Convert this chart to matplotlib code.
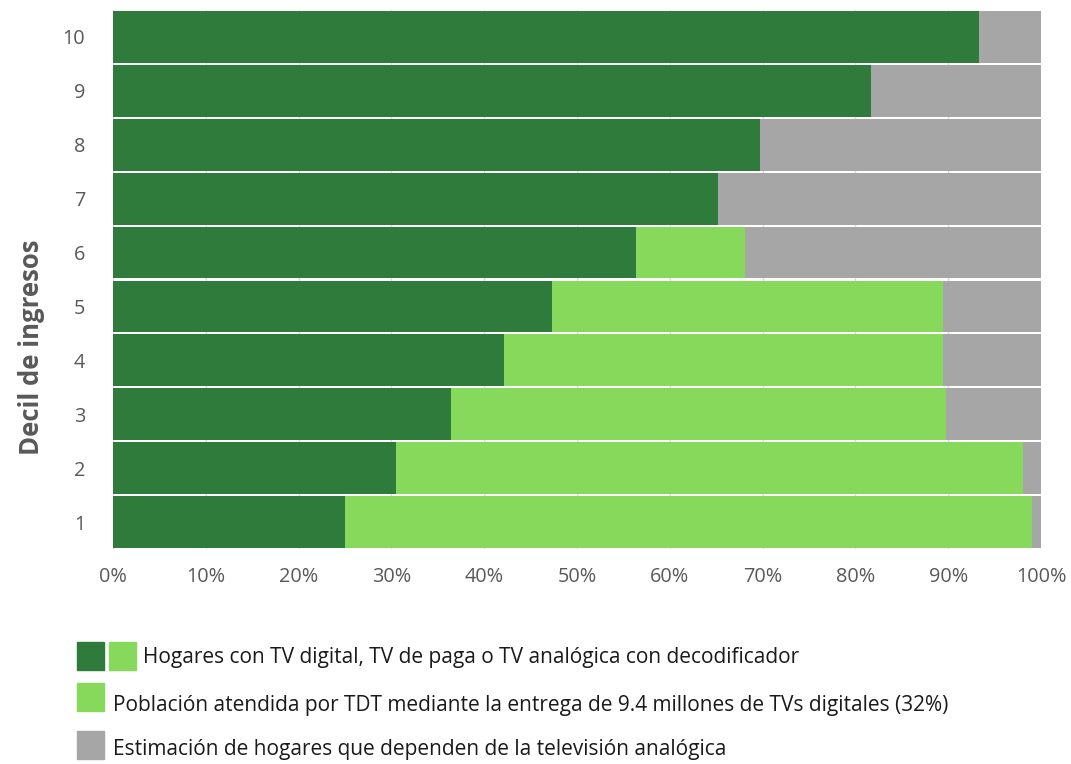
import numpy as np
import matplotlib.pyplot as plt
from matplotlib.patches import Rectangle

plt.rcParams['font.family'] = ['Open Sans', 'DejaVu Sans']

# data (percent of households)
deciles = [1, 2, 3, 4, 5, 6, 7, 8, 9, 10]
digital = [25.0, 30.5, 36.4, 42.1, 47.3, 56.4, 65.2, 69.7, 81.7, 93.3]
tdt = [74.0, 67.6, 53.4, 47.3, 42.1, 11.7, 0.0, 0.0, 0.0, 0.0]
analog = [100 - d - t for d, t in zip(digital, tdt)]

legend_labels = [
    'Hogares con TV digital, TV de paga o TV analógica con decodificador',
    'Población atendida por TDT mediante la entrega de 9.4 millones de TVs digitales (32%)',
    'Estimación de hogares que dependen de la televisión analógica',
]

c_dark = '#2e7b3c'
c_light = '#86d95a'
c_gray = '#a6a6a6'

fig = plt.figure(figsize=(10.71, 7.64), dpi=100)
ax = fig.add_axes([0.1055, 0.2814, 0.8665, 0.7055])

y = np.array(deciles)
h = 0.96
ax.barh(y, digital, height=h, color=c_dark, zorder=2)
ax.barh(y, tdt, left=digital, height=h, color=c_light, zorder=2)
ax.barh(y, analog, left=np.array(digital) + np.array(tdt), height=h, color=c_gray, zorder=2)

ax.set_xlim(0, 100)
ax.set_ylim(0.5, 10.5)
ax.set_xticks(np.arange(0, 101, 10))
ax.set_xticklabels([f'{v}%' for v in range(0, 101, 10)])
ax.set_yticks(y)
ax.set_yticklabels([str(d) for d in deciles])
ax.tick_params(length=0, labelsize=14.3, colors='#595959')
ax.tick_params(axis='x', pad=13)
ax.tick_params(axis='y', pad=20)
ax.grid(axis='x', color='#d9d9d9', lw=1, zorder=1)
for s in ax.spines.values():
    s.set_visible(False)
ax.axvline(0, color='#d9d9d9', lw=1, zorder=1)

fig.text(0.029, 0.545, 'Decil de ingresos', rotation=90, ha='center', va='center',
         fontsize=18.5, fontweight='bold', color='#595959')

# legend built by hand
W, H = 1071, 764


def box(x0, y0, color):
    fig.patches.append(Rectangle((x0 / W, 1 - (y0 + 28) / H), 27 / W, 28 / H,
                                 transform=fig.transFigure, color=color))


box(77, 642, c_dark)
box(109, 642, c_light)
box(77, 683, c_light)
box(77, 731, c_gray)
fig.text(143 / W, 1 - 658 / H, legend_labels[0], va='center', fontsize=15, color='#1a1a1a')
fig.text(113 / W, 1 - 705 / H, legend_labels[1], va='center', fontsize=15, color='#1a1a1a')
fig.text(113 / W, 1 - 749 / H, legend_labels[2], va='center', fontsize=15, color='#1a1a1a')

fig.savefig('out.png', dpi=100)
